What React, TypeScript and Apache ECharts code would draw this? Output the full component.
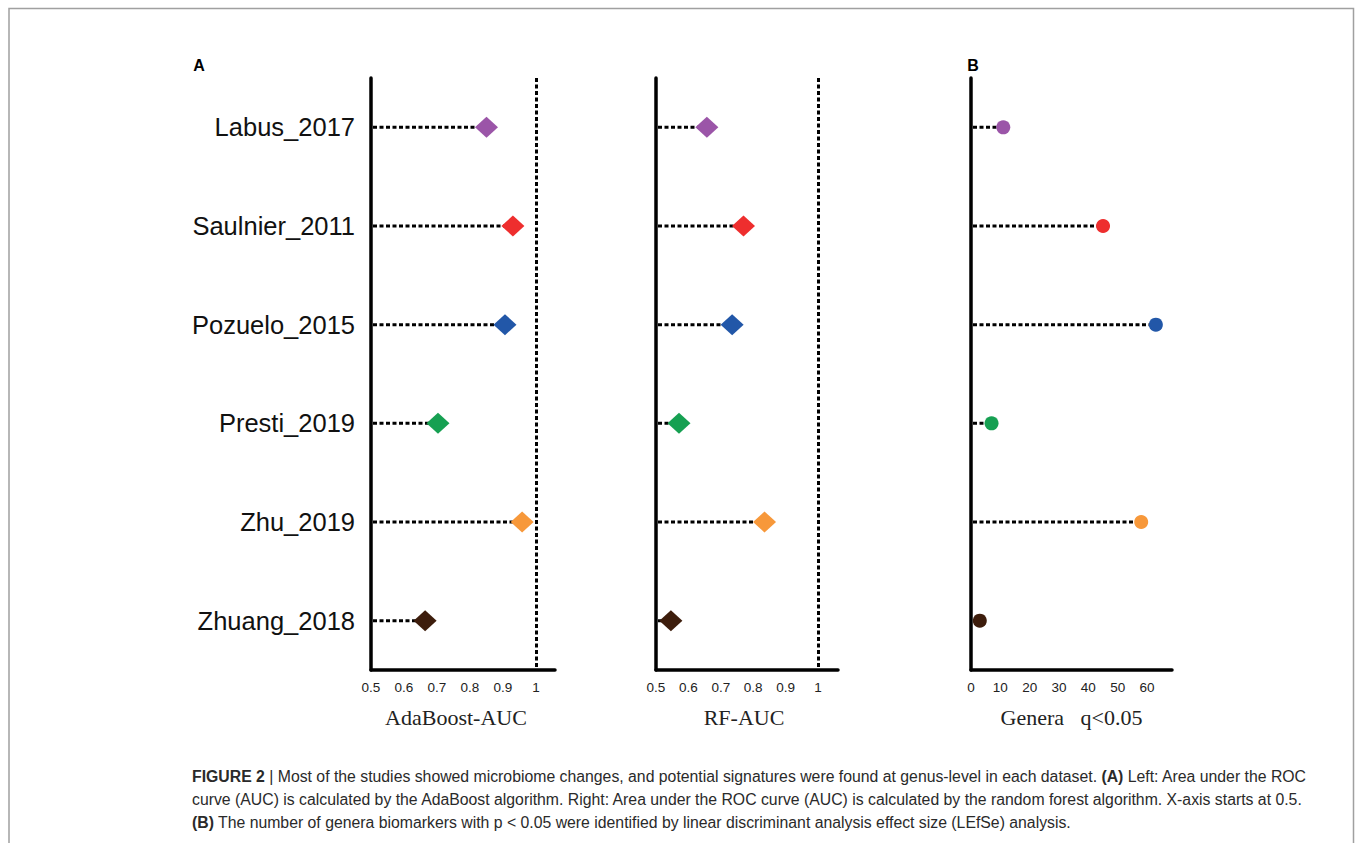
import React, { useEffect, useRef } from "react";
import * as echarts from "echarts";

// Studies shown as rows, top to bottom
const studies = ["Labus_2017", "Saulnier_2011", "Pozuelo_2015", "Presti_2019", "Zhu_2019", "Zhuang_2018"];
// AUC of the AdaBoost classifier per study
const adaboostAuc = [0.85, 0.93, 0.906, 0.703, 0.958, 0.664];
// AUC of the random forest classifier per study
const rfAuc = [0.657, 0.77, 0.735, 0.571, 0.835, 0.546];
// Number of discriminating genera (q<0.05) per study
const generaCount = [11, 45, 63, 7, 58, 3];
// One colour per study
const studyColors = ["#9b55a8", "#ee2e2e", "#2257a8", "#16a052", "#f7983a", "#3d1d0c"];

const captionLines = [
  "{b|FIGURE 2} | Most of the studies showed microbiome changes, and potential signatures were found at genus-level in each dataset. {b|(A)} Left: Area under the ROC",
  "curve (AUC) is calculated by the AdaBoost algorithm. Right: Area under the ROC curve (AUC) is calculated by the random forest algorithm. X-axis starts at 0.5.",
  "{b|(B)} The number of genera biomarkers with p < 0.05 were identified by linear discriminant analysis effect size (LEfSe) analysis.",
];

const SANS = "'Liberation Sans', Arial, Helvetica, sans-serif";
const SERIF = "'Liberation Serif', 'Times New Roman', serif";

const GRID_TOP = 78;
const GRID_H = 592;
const CAPTION_SIZE = 15.8;

const panels = [
  { left: 371, width: 184, min: 0.5, max: 1.0576, interval: 0.1, name: "AdaBoost-AUC", namePad: [0, 14, 0, 0], values: adaboostAuc, symbol: "diamond", size: [23, 21], refLine: 1, showCats: true },
  { left: 656, width: 182, min: 0.5, max: 1.0617, interval: 0.1, name: "RF-AUC", namePad: [0, 6, 0, 0], values: rfAuc, symbol: "diamond", size: [23, 21], refLine: 1, showCats: false },
  { left: 971, width: 201, min: 0, max: 68.5, interval: 10, name: "Genera   q<0.05", namePad: [0, 0, 0, 0], values: generaCount, symbol: "circle", size: 14, refLine: null, showCats: false },
];

export default function App() {
  const ref = useRef<HTMLDivElement>(null);

  useEffect(() => {
    if (!ref.current) return;
    const chart = echarts.init(ref.current, null, { renderer: "svg" });

    const grid = panels.map((p) => ({ left: p.left, top: GRID_TOP, width: p.width, height: GRID_H, containLabel: false }));

    const xAxis = panels.map((p, i) => ({
      type: "value",
      gridIndex: i,
      min: p.min,
      max: p.max,
      interval: p.interval,
      splitLine: { show: false },
      axisTick: { show: false },
      axisLine: { show: true, onZero: false, lineStyle: { color: "#000", width: 3.5 } },
      axisLabel: { showMaxLabel: false, color: "#222", fontSize: 13.5, fontFamily: SANS, margin: 10 },
      name: p.name,
      nameLocation: "middle",
      nameGap: 36,
      nameTextStyle: { fontFamily: SERIF, fontSize: 22, color: "#222", padding: p.namePad },
    }));

    const yAxis = panels.map((p, i) => ({
      type: "category",
      gridIndex: i,
      data: studies,
      inverse: true,
      axisTick: { show: false },
      axisLine: { show: true, lineStyle: { color: "#000", width: 3.5 } },
      axisLabel: { show: p.showCats, color: "#111", fontSize: 25.5, fontFamily: SANS, margin: 16 },
      splitLine: { show: false },
    }));

    const series: any[] = [];
    panels.forEach((p, i) => {
      // dotted stems from the axis to each marker
      series.push({
        type: "custom",
        xAxisIndex: i,
        yAxisIndex: i,
        z: 2,
        silent: true,
        data: p.values.map((v, k) => [v, k]),
        renderItem: (_params: any, api: any) => {
          const end = api.coord([api.value(0), api.value(1)]);
          const start = api.coord([p.min, api.value(1)]);
          return {
            type: "line",
            shape: { x1: start[0] + 2, y1: start[1], x2: end[0], y2: end[1] },
            style: { stroke: "#000", lineWidth: 3, lineDash: [4, 2.5] },
          };
        },
      });
      // markers
      series.push({
        type: "scatter",
        xAxisIndex: i,
        yAxisIndex: i,
        z: 3,
        symbol: p.symbol,
        symbolSize: p.size,
        data: p.values.map((v, k) => ({ value: [v, k], itemStyle: { color: studyColors[k], opacity: 1 } })),
        markLine: p.refLine === null ? undefined : {
          silent: true,
          symbol: ["none", "none"],
          label: { show: false },
          lineStyle: { color: "#000", width: 3, type: [4, 2.5], opacity: 1 },
          data: [{ xAxis: p.refLine }],
        },
      });
    });

    const graphic: any[] = [
      {
        type: "rect",
        shape: { x: 9, y: 8.5, width: 1344.5, height: 900 },
        style: { fill: "none", stroke: "#a0a0a0", lineWidth: 1.5 },
        silent: true,
      },
      { type: "text", x: 199, y: 65, style: { text: "A", font: `bold 16px ${SANS}`, fill: "#000", textAlign: "center", textVerticalAlign: "middle" } },
      { type: "text", x: 973, y: 65, style: { text: "B", font: `bold 16px ${SANS}`, fill: "#000", textAlign: "center", textVerticalAlign: "middle" } },
      ...captionLines.map((t, k) => ({
        type: "text",
        x: 192,
        y: 776 + k * 23,
        style: {
          text: t,
          font: `${CAPTION_SIZE}px ${SANS}`,
          fill: "#2a2a2a",
          textVerticalAlign: "middle",
          rich: { b: { fontWeight: "bold", fontSize: CAPTION_SIZE, fontFamily: SANS, fill: "#2a2a2a" } },
        },
      })),
    ];

    chart.setOption({
      animation: false,
      backgroundColor: "#fff",
      grid,
      xAxis,
      yAxis,
      series,
      graphic,
    });

    return () => chart.dispose();
  }, []);

  return <div ref={ref} style={{ position: "fixed", left: 0, top: 0, width: 1355, height: 843 }} />;
}
